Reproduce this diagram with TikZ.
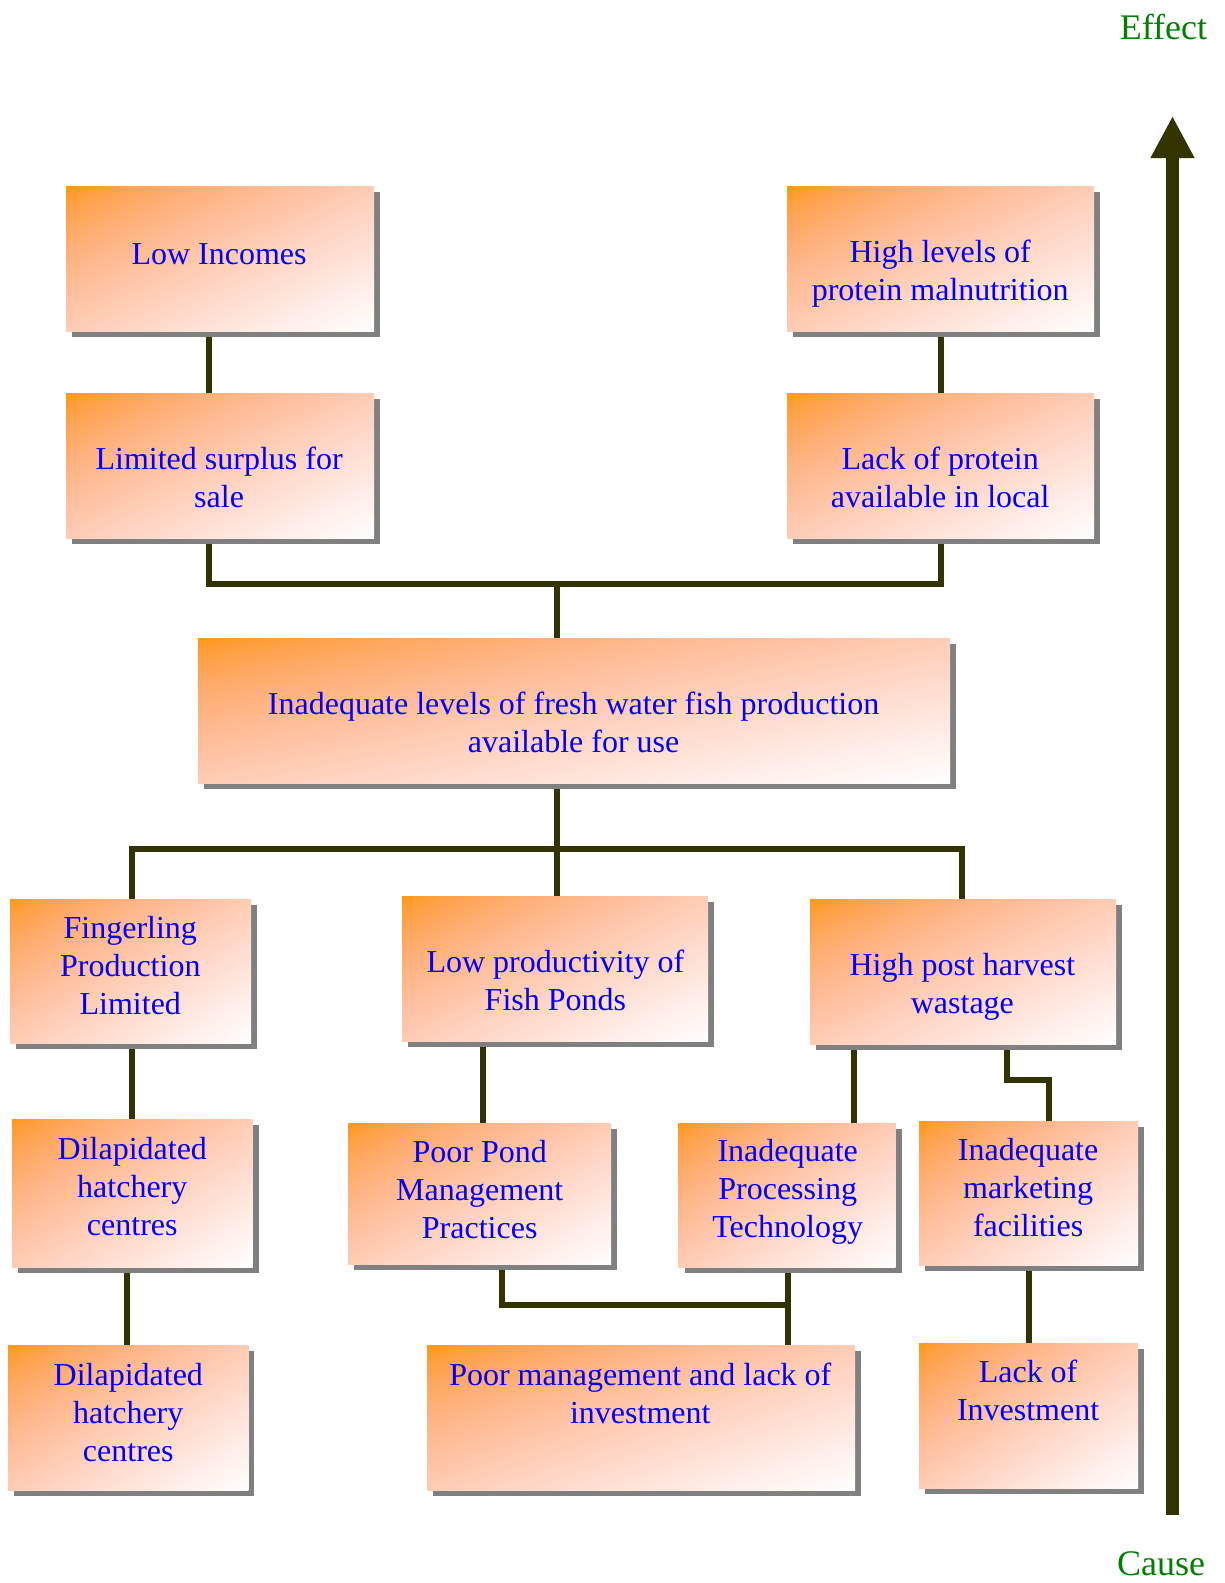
\documentclass[tikz,border=0pt]{standalone}
\usepackage{fontspec}
\setmainfont{Liberation Serif}
\usetikzlibrary{shadows,arrows.meta,backgrounds}
\definecolor{lineC}{RGB}{51,51,0}
\definecolor{txtC}{RGB}{0,0,255}
\definecolor{grnC}{RGB}{0,128,0}
\definecolor{shC}{RGB}{128,128,128}
\pgfdeclarefunctionalshading{boxsh}{\pgfpoint{0bp}{0bp}}{\pgfpoint{100bp}{100bp}}{}{
  exch 25 sub exch 75 exch sub add 100 div
  dup 0 lt {pop 0} if dup 1 gt {pop 1} if
  1 exch dup 0.4 mul 0.6 add exch sqrt
}
\tikzset{
  box/.style={inner sep=0pt, shading=boxsh,
    drop shadow={shadow xshift=6pt, shadow yshift=-6pt, fill=shC, opacity=1}},
  txt/.style={inner sep=0pt, align=center, text=txtC, font=\fontsize{32}{38}\selectfont},
  conn/.style={draw=lineC, line width=6pt},
  bigarrow/.style={draw=lineC, line width=13pt, -{Triangle[width=41pt,length=42pt]}},
  ce/.style={inner sep=0pt, text=grnC, font=\fontsize{36}{40}\selectfont}
}
\begin{document}
\begin{tikzpicture}[x=1pt,y=-1pt]
\useasboundingbox (0,0) rectangle (1225,1583);
% boxes
\node[box, minimum width=308pt, minimum height=145pt] (b1) at (220,258.5) {};
\node[box, minimum width=307pt, minimum height=145pt] (b2) at (940.5,258.5) {};
\node[box, minimum width=308pt, minimum height=145pt] (b3) at (220,465.5) {};
\node[box, minimum width=307pt, minimum height=145pt] (b4) at (940.5,465.5) {};
\node[box, minimum width=752pt, minimum height=145pt] (b5) at (574,710.5) {};
\node[box, minimum width=241pt, minimum height=144pt] (b6) at (130.5,971) {};
\node[box, minimum width=306pt, minimum height=145pt] (b7) at (555,968.5) {};
\node[box, minimum width=306pt, minimum height=145pt] (b8) at (963,971.5) {};
\node[box, minimum width=240.5pt, minimum height=148.4pt] (b9) at (132.3,1193.2) {};
\node[box, minimum width=262.6pt, minimum height=141.4pt] (b10) at (479.7,1193.7) {};
\node[box, minimum width=217pt, minimum height=144.4pt] (b11) at (787.2,1195.2) {};
\node[box, minimum width=219pt, minimum height=144pt] (b12) at (1028.5,1193) {};
\node[box, minimum width=240.4pt, minimum height=145pt] (b13) at (128.2,1417.5) {};
\node[box, minimum width=428pt, minimum height=145pt] (b14) at (641,1417.5) {};
\node[box, minimum width=219pt, minimum height=145pt] (b15) at (1028.5,1415.5) {};
% texts
\node[txt] (t1) at (219.1,254) {Low Incomes};
\node[txt] (t2) at (940.2,274) {High levels of\\protein malnutrition};
\node[txt] (t3) at (219.1,477.2) {Limited surplus for\\sale};
\node[txt] (t4) at (940.2,477.2) {Lack of protein\\available in local};
\node[txt] (t5) at (573.6,722.1) {Inadequate levels of fresh water fish production\\available for use};
\node[txt] (t6) at (130.3,965.5) {Fingerling\\Production\\Limited};
\node[txt] (t7) at (555.4,980.6) {Low productivity of\\Fish Ponds};
\node[txt] (t8) at (962.4,986.6) {High post harvest\\wastage};
\node[txt] (t9) at (132.3,1186.6) {Dilapidated\\hatchery\\centres};
\node[txt] (t10) at (479.7,1189.7) {Poor Pond\\Management\\Practices};
\node[txt] (t11) at (787.7,1191.7) {Inadequate\\Processing\\Technology};
\node[txt] (t12) at (1028.1,1187.6) {Inadequate\\marketing\\facilities};
\node[txt] (t13) at (128.3,1412.8) {Dilapidated\\hatchery\\centres};
\node[txt] (t14) at (640.3,1393.7) {Poor management and lack of\\investment};
\node[txt] (t15) at (1028.1,1390.6) {Lack of\\Investment};
\node[ce] (eff) at (1163.4,27.3) {Effect};
\node[ce] (cau) at (1161,1564) {Cause};
% junction coordinates
\coordinate (jA) at (209,583.7);
\coordinate (jB) at (941,583.7);
\coordinate (jC) at (556.5,583.7);
\coordinate (jD) at (556.5,849.3);
\coordinate (jE) at (132.3,849.3);
\coordinate (jF) at (962.4,849.3);
\coordinate (jH) at (127.2,1300);
\coordinate (jI) at (482.7,1080);
\coordinate (jJ) at (854.4,1080);
\coordinate (jK) at (1006.9,1079.6);
\coordinate (jL) at (1049.3,1079.6);
\coordinate (jM) at (501.9,1304.8);
\coordinate (jN) at (787.7,1304.8);
\coordinate (jO) at (1029.1,1300);
\coordinate (ab) at (1172.5,1515);
\coordinate (at) at (1172.5,116);
\begin{pgfonlayer}{background}
\draw[conn] (b1.south -| jA) -- (b3.north -| jA);
\draw[conn] (b2.south -| jB) -- (b4.north -| jB);
\draw[conn] (b3.south -| jA) -- (jA) -- (jB) -- (b4.south -| jB);
\draw[conn] (jC) -- (b5.north -| jC);
\draw[conn] (b5.south -| jD) -- (b7.north -| jD);
\draw[conn] (b6.north -| jE) -- (jE) -- (jF) -- (b8.north -| jF);
\draw[conn] (b6.south -| jE) -- (b9.north -| jE);
\draw[conn] (b9.south -| jH) -- (b13.north -| jH);
\draw[conn] (b7.south -| jI) -- (b10.north -| jI);
\draw[conn] (b8.south -| jJ) -- (b11.north -| jJ);
\draw[conn] (b8.south -| jK) -- (jK) -- (jL) -- (b12.north -| jL);
\draw[conn] (b10.south -| jM) -- (jM) -- (jN);
\draw[conn] (b11.south -| jN) -- (b14.north -| jN);
\draw[conn] (b12.south -| jO) -- (b15.north -| jO);
\end{pgfonlayer}
\draw[bigarrow] (ab) -- (at);
\end{tikzpicture}
\end{document}
